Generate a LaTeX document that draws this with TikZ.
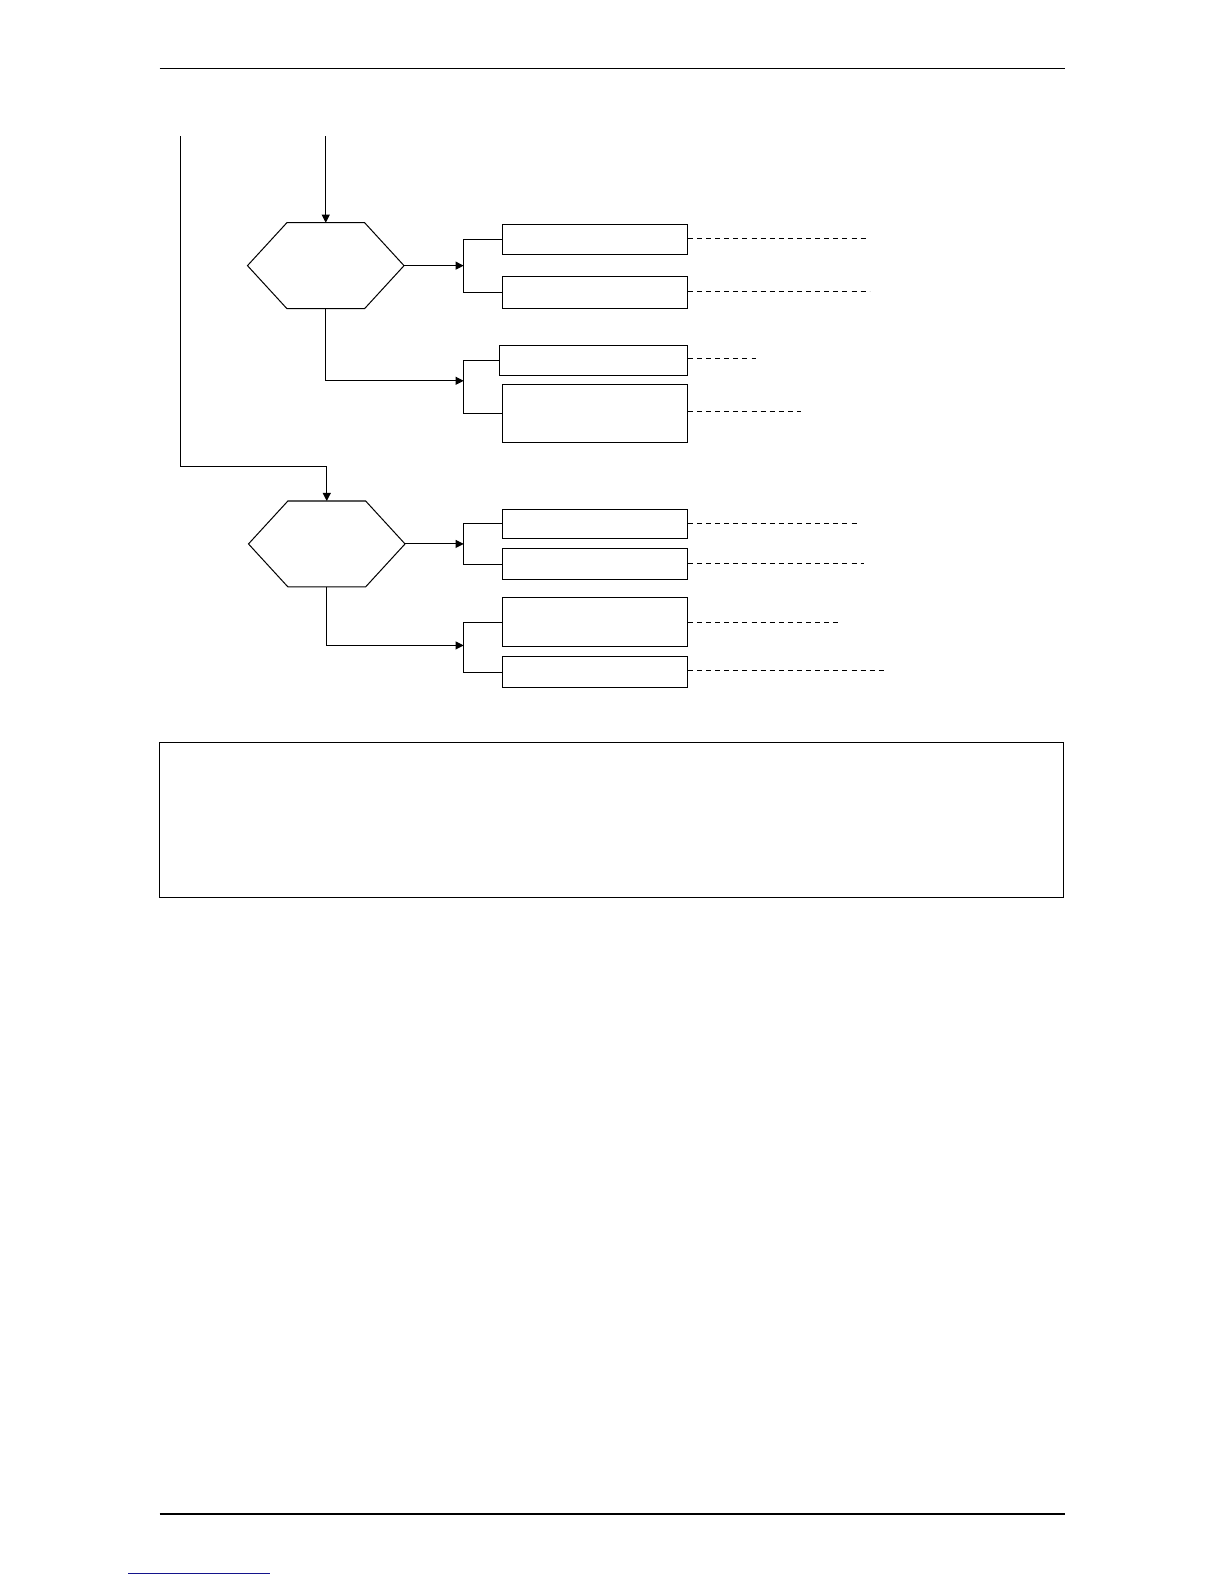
\documentclass[tikz,border=0pt]{standalone}
\usetikzlibrary{arrows.meta,calc}
\definecolor{linkblue}{RGB}{20,20,140}
\begin{document}
\begin{tikzpicture}[x=1pt,y=1pt,
  line width=1pt,
  boxnode/.style={draw,rectangle,minimum width=184pt,inner sep=0pt,outer sep=0pt},
  hexbox/.style={rectangle,minimum width=155pt,minimum height=85pt,inner sep=0pt,outer sep=0pt},
  arr/.style={-{Triangle[length=8pt,width=8pt]}},
  dashline/.style={dash pattern=on 5pt off 4pt},
  conn/.style={line width=1pt}]
\useasboundingbox (0,0) rectangle (1211.8,-1568.2);
% header / footer
\coordinate (hl) at (158,-68); \coordinate (hr) at (1054,-68);
\draw[line width=1pt] (hl) -- (hr);
\coordinate (fl) at (158,-1499); \coordinate (fr) at (1054,-1499);
\draw[line width=1.8pt] (fl) -- (fr);
\coordinate (ll) at (127,-1558); \coordinate (lr) at (267,-1558);
\draw[linkblue,line width=1pt] (ll) -- (lr);

% hexagons
\node[hexbox] (h1) at (322.5,-263) {};
\node[hexbox] (h2) at (323.5,-538.5) {};
\foreach \h in {h1,h2}{
  \draw (\h.west) -- ($(\h.north west)+(39,0)$) -- ($(\h.north east)+(-39,0)$) -- (\h.east)
        -- ($(\h.south east)+(-39,0)$) -- ($(\h.south west)+(39,0)$) -- cycle;
}

% boxes
\node[boxnode,minimum height=30pt] (b1) at (589,-237) {};
\node[boxnode,minimum height=31pt] (b2) at (589,-289.5) {};
\node[boxnode,minimum width=186pt,minimum height=30pt] (b3) at (588,-357) {};
\node[boxnode,minimum height=57pt] (b4) at (589,-409.5) {};
\node[boxnode,minimum height=29pt] (b5) at (589,-518.5) {};
\node[boxnode,minimum height=31pt] (b6) at (589,-558.5) {};
\node[boxnode,minimum height=48pt] (b7) at (589,-616) {};
\node[boxnode,minimum height=31pt] (b8) at (589,-665.5) {};

% incoming lines
\coordinate (t1) at (322.5,-135);
\coordinate (t2) at (179,-135);
\coordinate (t2c) at (179,-462);
\draw[arr] (t1) -- (h1.north);
\draw[arr] (t2) -- (t2c) -| (h2.north);

% bracket points
\coordinate (k1) at (459,-263);
\coordinate (k2) at (459,-377);
\coordinate (k3) at (459,-538.5);
\coordinate (k4) at (459,-639);

\draw[arr] (h1.east) -- (k1);
\draw[arr] (h1.south) |- (k2);
\draw[arr] (h2.east) -- (k3);
\draw[arr] (h2.south) |- (k4);

\draw (b1.west) -| (k1) |- (b2.west);
\draw (b3.west) -| (k2) |- (b4.west);
\draw (b5.west) -| (k3) |- (b6.west);
\draw (b7.west) -| (k4) |- (b8.west);

% dashed leaders
\coordinate (d1) at (857,-236);
\coordinate (d2) at (861,-289);
\coordinate (d3) at (748,-355);
\coordinate (d4) at (793,-407);
\coordinate (d5) at (851,-518);
\coordinate (d6) at (855,-558);
\coordinate (d7) at (830,-616);
\coordinate (d8) at (876,-664);
\draw[dashline] (b1.east |- d1) -- (d1);
\draw[dashline] (b2.east |- d2) -- (d2);
\draw[dashline] (b3.east |- d3) -- (d3);
\draw[dashline] (b4.east |- d4) -- (d4);
\draw[dashline] (b5.east |- d5) -- (d5);
\draw[dashline] (b6.east |- d6) -- (d6);
\draw[dashline] (b7.east |- d7) -- (d7);
\draw[dashline] (b8.east |- d8) -- (d8);

% note box
\node[draw,rectangle,minimum width=895pt,minimum height=154pt,inner sep=0pt] (note) at (605.5,-812) {};
\end{tikzpicture}
\end{document}
